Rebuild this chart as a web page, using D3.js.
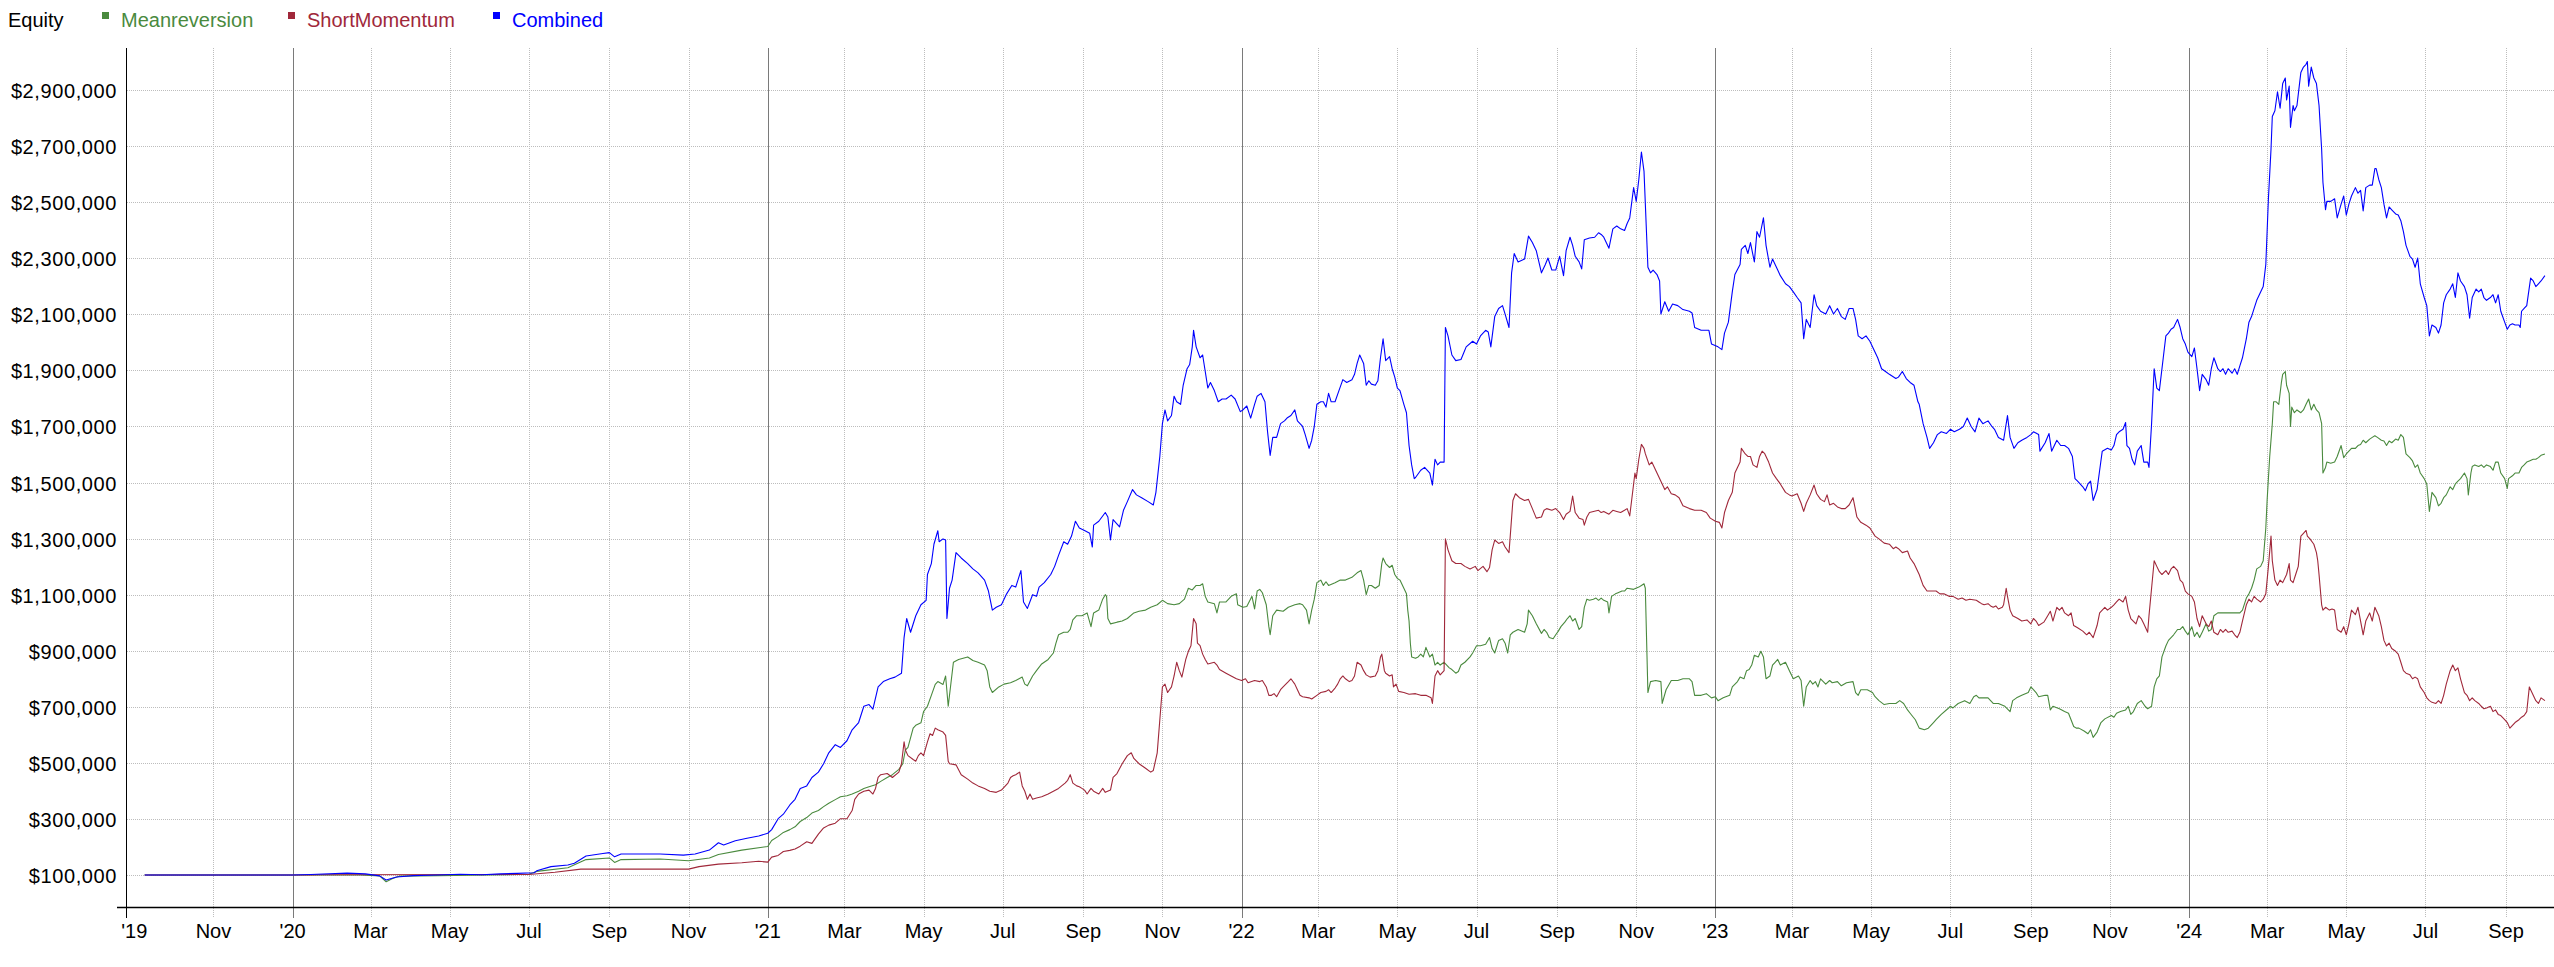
<!DOCTYPE html>
<html><head><meta charset="utf-8">
<script src="https://cdn.jsdelivr.net/npm/d3@7"></script>
<style>
body{margin:0;background:#fff;}
svg{display:block;}
text{font-family:Arial,"Liberation Sans",sans-serif;}
</style></head>
<body><svg id="chart" width="2554" height="967"></svg>
<script>
// ---- data ----
const chartTitle = "Equity";
const startDate = "2019-08-26";      // first day of the time axis
const axisDays = 1870;               // length of the time axis in days
const seriesNames = ["Meanreversion", "ShortMomentum", "Combined"];
const yTickValues = [100,300,500,700,900,1100,1300,1500,1700,1900,2100,2300,2500,2700,2900]; // thousands of USD
// each point: [days since startDate, equity in thousands of USD]
const meanreversion = [[14,100],[128,100],[180,100],[195,97],[200,76],[205,88],[210,96],[240,98],[280,100],[310,103],[316,113],[340,126],[354,155],[372,161],[376,145],[381,155],[411,157],[433,151],[449,161],[456,173],[474,189],[494,202],
[497,223],[502,238],[506,252],[511,262],[515,272],[519,291],[524,305],[528,321],[533,330],[537,344],[541,356],[546,369],[550,379],[555,383],[559,389],[564,399],[568,409],[572,415],[577,422],[581,434],[586,448],[590,458],[595,477],[598,497],[600,546],[602,555],[606,624],[608,634],[612,643],[614,683],[617,702],[620,741],[623,780],[625,790],[629,780],[631,810],[633,702],[637,859],[641,869],[648,878],[652,865],[656,859],[661,849],[663,829],[665,771],[667,751],[672,771],[676,781],[681,786],[685,794],[690,806],[692,781],[694,775],[698,810],[701,829],[705,853],[710,869],[714,892],[716,927],[718,957],[722,966],[725,966],[727,976],[729,1010],[732,1025],[736,1025],[740,1035],[743,986],[745,1035],[749,1045],[752,1084],[754,1100],[755,1094],[756,1015],[758,996],[763,1002],[767,1006],[771,1015],[776,1035],[780,1041],[785,1045],[789,1055],[794,1064],[798,1080],[802,1068],[807,1064],[811,1068],[815,1084],[818,1123],[821,1117],[824,1133],[827,1133],[829,1139],[831,1094],[833,1074],[838,1068],[840,1035],[842,1074],[847,1074],[851,1094],[855,1103],[856,1064],[860,1055],[863,1058],[867,1094],[869,1049],[871,1113],[873,1119],[875,1107],[878,1064],[880,986],[881,957],[883,1025],[886,1045],[891,1041],[895,1055],[900,1064],[904,1068],[906,1064],[909,1045],[911,996],[913,1045],[915,1084],[917,1143],[920,1152],[922,1133],[924,1146],[926,1133],[931,1143],[935,1152],[939,1152],[944,1162],[948,1178],[951,1186],[953,1152],[955,1100],[957,1133],[959,1133],[962,1123],[965,1133],[967,1211],[968,1231],[970,1211],[973,1197],[975,1205],[977,1172],[979,1158],[981,1152],[984,1123],[986,1103],[987,1045],[988,1006],[989,927],[990,878],[993,873],[995,878],[997,888],[999,878],[1001,912],[1004,878],[1006,888],[1008,849],[1010,859],[1012,849],[1015,859],[1017,849],[1019,839],[1021,833],[1024,820],[1026,826],[1028,849],[1031,859],[1035,878],[1037,892],[1040,918],[1043,918],[1047,923],[1050,947],[1052,908],[1054,892],[1057,937],[1060,943],[1062,927],[1064,892],[1066,957],[1068,966],[1072,976],[1077,966],[1079,996],[1080,1045],[1083,1025],[1086,996],[1090,962],[1092,976],[1094,966],[1096,947],[1099,943],[1101,957],[1103,970],[1105,986],[1108,1002],[1110,1015],[1112,1025],[1114,1006],[1116,1015],[1119,976],[1121,986],[1123,1055],[1125,1084],[1127,1080],[1130,1084],[1132,1088],[1134,1080],[1136,1088],[1138,1080],[1141,1074],[1142,1035],[1144,1094],[1147,1103],[1149,1107],[1152,1113],[1154,1113],[1156,1123],[1161,1119],[1165,1127],[1167,1133],[1169,1139],[1170,1123],[1172,751],[1174,790],[1178,794],
[1182,790],[1183,712],[1186,761],[1190,794],[1195,794],[1199,800],[1204,800],[1206,790],[1208,741],[1213,741],[1217,747],[1221,732],[1224,736],[1226,722],[1230,732],[1235,741],[1237,771],[1241,790],[1243,806],[1246,800],[1248,829],[1250,833],[1252,849],[1254,884],[1257,878],[1259,898],[1261,878],[1263,800],[1266,810],[1268,849],[1270,859],[1272,869],[1274,849],[1278,859],[1281,829],[1284,800],[1288,810],[1290,794],[1292,702],[1294,771],[1297,794],[1299,781],[1301,790],[1303,771],[1305,800],[1309,781],[1312,794],[1314,786],[1318,790],[1321,775],[1325,786],[1330,790],[1332,751],[1334,741],[1336,761],[1341,761],[1345,751],[1347,736],[1350,722],[1354,708],[1358,712],[1363,712],[1366,722],[1369,712],[1372,689],[1374,677],[1378,654],[1381,624],[1385,618],[1388,624],[1392,644],[1394,654],[1398,673],[1403,693],[1405,702],[1407,696],[1411,712],[1416,722],[1420,712],[1423,736],[1425,741],[1427,732],[1429,732],[1434,732],[1438,712],[1442,712],[1447,702],[1451,683],[1453,722],[1456,732],[1460,741],[1465,751],[1467,771],[1469,761],[1471,751],[1473,736],[1478,741],[1480,741],[1482,689],[1484,702],[1489,693],[1493,683],[1496,677],[1500,630],[1502,624],[1504,624],[1508,614],[1511,604],[1513,618],[1515,591],[1518,610],[1521,644],[1524,657],[1529,669],[1531,663],[1533,677],[1536,683],[1540,689],[1542,702],[1544,673],[1546,683],[1549,712],[1552,722],[1555,702],[1557,693],[1560,702],[1562,771],[1564,800],[1566,810],[1568,878],[1571,917],[1573,937],[1575,947],[1577,957],[1580,976],[1582,976],[1584,986],[1586,970],[1588,957],[1591,986],[1593,951],[1595,966],[1597,947],[1599,966],[1602,996],[1604,970],[1606,976],[1608,1025],[1611,1035],[1615,1035],[1619,1035],[1624,1035],[1628,1035],[1630,1045],[1633,1088],[1635,1103],[1637,1123],[1639,1152],[1641,1192],[1644,1201],[1646,1221],[1648,1338],[1649,1436],[1651,1593],[1653,1710],[1654,1788],[1656,1788],[1658,1779],[1660,1857],[1661,1886],[1663,1896],[1664,1847],[1666,1818],[1667,1700],[1668,1769],[1670,1749],[1672,1759],[1675,1749],[1677,1759],[1679,1779],[1681,1798],[1683,1759],[1685,1779],[1687,1759],[1689,1749],[1691,1710],[1692,1534],[1694,1554],[1695,1573],[1698,1569],[1701,1573],[1703,1593],[1706,1632],[1708,1589],[1710,1602],[1712,1612],[1714,1622],[1717,1622],[1719,1632],[1721,1636],[1723,1651],[1725,1642],[1728,1655],[1730,1661],[1732,1667],[1734,1661],[1737,1651],[1739,1648],[1741,1632],[1743,1648],[1745,1642],[1748,1655],[1750,1651],[1752,1671],[1754,1661],[1756,1602],[1759,1589],[1761,1577],[1763,1554],[1765,1563],[1767,1534],[1770,1514],[1772,1495],[1774,1397],[1776,1465],[1779,1446],[1781,1417],[1783,1426],[1785,1446],[1787,1456],[1790,1485],[1792,1475],[1794,1495],[1796,1505],[1798,1514],[1801,1534],[1803,1514],[1804,1456],[1806,1534],[1807,1557],[1809,1563],[1812,1557],[1814,1563],[1816,1554],[1818,1563],[1821,1557],[1823,1544],[1825,1573],[1827,1573],[1829,1534],[1832,1514],[1834,1479],[1835,1514],[1838,1524],[1840,1534],[1843,1534],[1845,1554],[1847,1563],[1849,1573],[1851,1577],[1854,1583],[1856,1583],[1858,1589],[1860,1597],[1863,1602]];

const shortMomentum = [[14,100],[142,100],[150,101],[310,102],[330,110],[350,121],[433,121],[441,130],[456,139],[474,144],[487,149],[494,146],
[497,164],[502,170],[506,184],[511,188],[515,193],[519,203],[524,219],[528,213],[533,246],[537,268],[541,278],[546,285],[550,301],[555,301],[559,330],[561,370],[564,389],[568,399],[572,403],[575,389],[577,409],[579,448],[581,458],[586,462],[590,448],[595,467],[597,497],[599,575],[600,546],[602,526],[606,512],[608,506],[610,526],[612,536],[614,526],[617,575],[619,604],[621,598],[623,624],[625,618],[629,610],[631,598],[633,506],[634,497],[639,493],[643,458],[648,442],[652,428],[656,418],[661,409],[665,399],[670,395],[674,403],[679,428],[681,448],[683,454],[685,458],[688,467],[690,418],[692,399],[694,370],[696,389],[698,370],[701,375],[705,379],[710,389],[714,399],[718,409],[723,428],[725,438],[727,458],[729,428],[732,418],[734,415],[736,409],[738,403],[740,389],[743,409],[745,399],[749,389],[752,409],[754,395],[758,403],[760,448],[763,462],[767,497],[771,526],[774,536],[776,516],[780,497],[785,481],[789,467],[791,473],[794,536],[796,653],[798,771],[800,781],[802,751],[805,771],[807,810],[809,859],[811,829],[813,806],[816,869],[818,898],[820,918],[822,1015],[824,996],[825,927],[827,918],[829,888],[831,869],[833,853],[838,859],[840,849],[842,833],[847,820],[851,810],[855,800],[859,794],[862,800],[864,786],[869,794],[873,790],[875,794],[878,771],[880,741],[882,741],[884,747],[886,736],[889,761],[891,771],[895,790],[897,800],[900,781],[902,761],[904,741],[906,736],[911,732],[913,728],[917,741],[920,751],[924,755],[926,761],[928,751],[931,767],[933,781],[935,800],[937,810],[939,800],[942,790],[944,794],[946,810],[948,859],[951,849],[953,829],[955,814],[958,806],[962,810],[964,829],[966,878],[967,888],[969,829],[970,820],[973,810],[975,814],[976,771],[978,781],[980,755],[984,751],[988,745],[993,747],[997,741],[1001,741],[1005,732],[1006,712],[1008,810],[1010,829],[1012,814],[1015,829],[1016,1299],[1018,1260],[1021,1221],[1024,1211],[1028,1211],[1031,1201],[1035,1192],[1039,1201],[1041,1186],[1045,1201],[1048,1182],[1050,1197],[1052,1260],[1054,1295],[1057,1283],[1060,1289],[1062,1270],[1065,1250],[1068,1436],[1070,1460],[1073,1446],[1077,1436],[1080,1440],[1083,1407],[1086,1373],[1090,1377],[1092,1401],[1094,1407],[1098,1401],[1101,1407],[1104,1393],[1107,1368],[1109,1387],[1112,1397],[1114,1452],[1116,1393],[1119,1373],[1122,1368],[1123,1348],[1125,1377],[1127,1393],[1130,1397],[1134,1401],[1136,1393],[1138,1397],[1142,1387],[1145,1401],[1148,1397],[1151,1393],[1154,1401],[1156,1407],[1158,1381],[1161,1495],[1162,1534],[1163,1514],[1165,1583],[1167,1636],[1169,1622],[1170,1603],[1173,1563],[1175,1573],[1177,1554],
[1179,1534],[1182,1505],[1185,1475],[1187,1485],[1190,1460],[1193,1456],[1196,1446],[1199,1417],[1204,1407],[1208,1401],[1213,1401],[1217,1393],[1220,1373],[1224,1362],[1227,1358],[1229,1338],[1231,1393],[1234,1436],[1237,1465],[1239,1534],[1243,1573],[1244,1622],[1247,1602],[1249,1593],[1251,1593],[1253,1563],[1256,1554],[1258,1593],[1260,1612],[1262,1603],[1265,1573],[1268,1534],[1271,1514],[1274,1495],[1278,1465],[1281,1456],[1283,1452],[1287,1460],[1290,1426],[1292,1397],[1294,1426],[1297,1456],[1300,1491],[1302,1460],[1305,1440],[1308,1432],[1310,1456],[1312,1420],[1315,1426],[1318,1413],[1321,1407],[1324,1407],[1327,1420],[1330,1446],[1333,1377],[1336,1358],[1340,1348],[1343,1338],[1347,1309],[1350,1299],[1354,1284],[1358,1280],[1361,1264],[1363,1270],[1365,1264],[1368,1250],[1372,1256],[1374,1231],[1377,1211],[1380,1182],[1381,1172],[1384,1133],[1387,1113],[1390,1113],[1394,1113],[1397,1103],[1400,1103],[1404,1094],[1407,1094],[1411,1084],[1414,1088],[1417,1080],[1420,1084],[1425,1080],[1427,1074],[1429,1068],[1431,1064],[1434,1068],[1436,1060],[1438,1055],[1440,1060],[1442,1049],[1445,1055],[1446,1064],[1448,1123],[1449,1094],[1451,1045],[1453,1025],[1457,1015],[1460,1006],[1464,1010],[1467,996],[1469,1015],[1471,1006],[1473,990],[1477,1002],[1480,1025],[1482,1041],[1484,1006],[1487,1055],[1489,1045],[1491,1055],[1493,1035],[1496,1025],[1498,1035],[1500,990],[1503,982],[1507,970],[1510,957],[1512,966],[1515,947],[1518,990],[1520,1035],[1522,1045],[1524,1055],[1526,1045],[1529,1055],[1531,1064],[1533,1074],[1535,1084],[1538,1074],[1540,1094],[1542,1045],[1544,1015],[1548,996],[1550,1025],[1552,1015],[1554,996],[1557,966],[1558,1025],[1560,1123],[1562,1221],[1564,1201],[1566,1182],[1568,1172],[1571,1186],[1573,1172],[1575,1192],[1577,1201],[1580,1186],[1582,1152],[1584,1143],[1586,1113],[1588,1103],[1591,1094],[1593,1074],[1595,1015],[1597,986],[1599,1025],[1602,996],[1604,986],[1606,1006],[1608,966],[1611,957],[1613,976],[1615,966],[1617,976],[1619,966],[1622,970],[1624,957],[1626,947],[1628,966],[1630,1006],[1633,1064],[1635,1084],[1637,1074],[1639,1094],[1641,1084],[1644,1074],[1646,1084],[1648,1103],[1650,1201],[1652,1309],[1653,1221],[1655,1152],[1657,1133],[1659,1152],[1661,1143],[1664,1172],[1666,1211],[1667,1152],[1669,1143],[1671,1172],[1673,1201],[1675,1309],[1677,1319],[1679,1329],[1680,1309],[1682,1299],[1685,1280],[1687,1250],[1688,1221],[1689,1172],[1691,1064],[1692,1045],[1694,1055],[1697,1045],[1699,1049],[1701,1045],[1703,976],[1706,966],[1708,986],[1710,957],[1712,996],[1714,1045],[1717,1029],[1719,1055],[1721,1006],[1723,957],[1725,1006],[1728,1035],[1730,1006],[1732,1055],[1735,1025],[1737,986],[1739,937],[1741,917],[1743,927],[1745,908],[1748,898],[1750,888],[1752,859],[1754,829],[1756,820],[1759,814],[1761,800],[1763,806],[1765,800],[1767,771],[1770,751],[1772,732],[1774,722],[1776,716],[1779,712],[1781,722],[1783,712],[1785,741],[1787,781],[1790,829],[1792,849],[1794,829],[1796,839],[1798,800],[1801,751],[1803,741],[1805,722],[1807,732],[1809,722],[1812,712],[1814,702],[1816,693],[1818,696],[1821,702],[1823,683],[1825,689],[1827,673],[1829,669],[1832,654],[1834,644],[1836,624],[1838,634],[1840,644],[1843,654],[1845,663],[1847,669],[1849,683],[1851,771],[1854,741],[1856,722],[1858,712],[1860,732],[1863,722]];

const combined = [[14,100],[128,100],[142,102],[170,107],[184,104],[195,97],[200,82],[208,93],[221,98],[239,100],[257,103],[274,101],[288,104],[301,106],[314,108],[316,115],[327,130],[340,136],[345,142],[354,168],[367,177],[372,180],[376,165],[381,175],[389,175],[411,175],[429,171],[438,175],[449,189],[456,215],[460,207],[469,222],[478,231],[487,239],[494,249],
[497,262],[502,301],[506,317],[511,350],[515,370],[519,409],[524,418],[528,448],[533,467],[537,497],[541,536],[546,565],[550,555],[555,579],[559,618],[564,644],[568,702],[572,708],[575,692],[579,771],[583,790],[588,800],[592,806],[597,820],[599,947],[601,1015],[604,966],[608,1025],[612,1064],[616,1080],[617,1172],[620,1211],[622,1280],[625,1328],[626,1289],[629,1299],[631,1295],[632,1015],[634,1123],[636,1152],[639,1250],[643,1231],[648,1211],[652,1192],[656,1178],[661,1152],[664,1113],[667,1045],[670,1055],[674,1064],[678,1103],[682,1133],[685,1127],[689,1186],[691,1074],[694,1051],[698,1100],[701,1094],[703,1127],[707,1143],[712,1172],[715,1201],[718,1240],[722,1289],[725,1280],[728,1309],[731,1362],[734,1338],[738,1329],[742,1319],[744,1270],[745,1348],[749,1362],[754,1393],[756,1377],[758,1295],[760,1368],[765,1342],[768,1401],[771,1432],[775,1475],[778,1456],[782,1446],[787,1432],[791,1420],[793,1465],[796,1593],[798,1710],[800,1759],[802,1720],[805,1739],[807,1808],[809,1788],[812,1779],[814,1847],[817,1906],[819,1921],[821,1984],[822,2043],[824,1984],[827,1945],[829,1955],[831,1896],[833,1837],[835,1857],[838,1828],[841,1788],[844,1798],[847,1798],[851,1812],[854,1798],[858,1753],[860,1759],[863,1773],[866,1730],[869,1779],[871,1808],[874,1818],[877,1788],[879,1681],[881,1597],[883,1661],[886,1661],[889,1710],[892,1720],[894,1730],[897,1739],[900,1759],[902,1720],[904,1710],[906,1700],[908,1671],[911,1622],[913,1651],[915,1700],[917,1779],[920,1788],[922,1788],[924,1769],[926,1818],[928,1788],[931,1788],[934,1828],[937,1867],[940,1857],[944,1867],[946,1886],[948,1925],[950,1955],[953,1925],[955,1847],[957,1863],[959,1851],[962,1847],[964,1863],[966,1945],[968,2013],[970,1935],[973,1949],[975,1906],[977,1876],[979,1837],[981,1828],[984,1779],[986,1749],[988,1632],[990,1563],[992,1514],[993,1518],[997,1544],[1000,1554],[1004,1534],[1006,1491],[1008,1583],[1010,1563],[1012,1573],[1015,1573],[1016,2053],[1018,2023],[1021,1955],[1024,1935],[1028,1939],[1030,1961],[1032,1984],[1037,2004],[1040,1994],[1043,2023],[1047,2043],[1049,2037],[1051,1984],[1054,2092],[1057,2121],[1060,2131],[1062,2101],[1065,2053],[1067,2248],[1069,2317],[1072,2287],[1077,2297],[1080,2379],[1083,2356],[1086,2327],[1090,2248],[1093,2278],[1095,2301],[1098,2258],[1101,2258],[1104,2307],[1107,2238],[1109,2327],[1112,2375],[1114,2346],[1116,2307],[1119,2287],[1121,2262],[1123,2366],[1127,2372],[1131,2375],[1134,2391],[1136,2385],[1138,2375],[1142,2336],[1145,2405],[1148,2415],[1151,2405],[1154,2399],[1156,2424],[1158,2444],[1161,2552],[1163,2503],[1165,2581],[1167,2679],[1169,2610],[1172,2268],[1174,2248],[1176,2258],[1179,2242],
[1181,2219],[1182,2101],[1185,2145],[1188,2111],[1191,2137],[1195,2131],[1199,2117],[1204,2111],[1206,2105],[1208,2053],[1213,2043],[1219,2043],[1221,1994],[1226,1984],[1229,1974],[1231,2033],[1234,2072],[1237,2180],[1239,2242],[1243,2278],[1244,2332],[1247,2346],[1249,2317],[1251,2356],[1254,2287],[1256,2395],[1258,2375],[1261,2444],[1263,2346],[1266,2268],[1268,2297],[1270,2278],[1272,2258],[1274,2238],[1278,2209],[1281,2199],[1284,2180],[1287,2160],[1290,2141],[1292,2013],[1294,2082],[1297,2053],[1300,2170],[1302,2131],[1305,2111],[1309,2101],[1312,2131],[1315,2101],[1318,2121],[1321,2092],[1324,2082],[1327,2121],[1330,2121],[1332,2082],[1334,2023],[1337,2013],[1340,2023],[1343,2004],[1345,1984],[1349,1945],[1352,1906],[1355,1896],[1358,1886],[1363,1871],[1365,1876],[1368,1896],[1371,1871],[1374,1857],[1377,1847],[1380,1788],[1381,1779],[1384,1710],[1387,1661],[1389,1622],[1392,1642],[1395,1671],[1398,1681],[1402,1675],[1405,1690],[1408,1681],[1412,1690],[1415,1700],[1418,1730],[1421,1700],[1424,1681],[1427,1730],[1430,1710],[1434,1720],[1437,1700],[1439,1690],[1442,1661],[1446,1651],[1449,1739],[1451,1661],[1454,1622],[1457,1642],[1460,1651],[1464,1661],[1467,1671],[1469,1681],[1473,1671],[1474,1612],[1478,1642],[1481,1675],[1483,1612],[1487,1651],[1490,1632],[1493,1632],[1496,1622],[1499,1593],[1501,1514],[1503,1505],[1507,1485],[1509,1471],[1511,1495],[1513,1505],[1515,1436],[1518,1475],[1520,1544],[1522,1612],[1526,1622],[1529,1616],[1531,1632],[1533,1671],[1535,1681],[1538,1690],[1540,1714],[1541,1632],[1543,1622],[1545,1583],[1547,1563],[1549,1612],[1552,1632],[1554,1573],[1557,1573],[1558,1554],[1560,1710],[1562,1906],[1564,1837],[1566,1828],[1569,1945],[1571,2023],[1573,2033],[1575,2047],[1577,2053],[1580,2082],[1582,2053],[1584,2013],[1586,1994],[1588,1965],[1591,1949],[1593,1980],[1595,1906],[1597,1828],[1599,1886],[1602,1867],[1604,1847],[1606,1906],[1608,1945],[1611,1906],[1613,1896],[1615,1906],[1617,1886],[1619,1906],[1622,1890],[1624,1906],[1626,1886],[1628,1916],[1630,1945],[1633,2013],[1635,2072],[1637,2092],[1639,2121],[1641,2150],[1644,2180],[1646,2199],[1648,2278],[1650,2512],[1652,2689],[1653,2806],[1655,2826],[1657,2894],[1659,2835],[1661,2923],[1663,2943],[1664,2865],[1666,2914],[1667,2767],[1669,2845],[1670,2826],[1672,2845],[1675,2963],[1677,2982],[1679,2992],[1680,3002],[1681,2914],[1683,2982],[1685,2943],[1687,2923],[1689,2845],[1691,2689],[1692,2571],[1694,2473],[1695,2503],[1698,2503],[1701,2512],[1703,2444],[1706,2493],[1708,2522],[1710,2454],[1712,2493],[1714,2522],[1717,2552],[1719,2532],[1721,2542],[1723,2469],[1725,2552],[1728,2561],[1730,2561],[1732,2620],[1733,2620],[1735,2581],[1737,2552],[1739,2493],[1741,2444],[1743,2483],[1745,2473],[1748,2458],[1750,2454],[1752,2434],[1754,2395],[1756,2346],[1759,2307],[1761,2297],[1763,2268],[1765,2301],[1767,2209],[1770,2160],[1772,2131],[1774,2023],[1776,2062],[1779,2053],[1781,2033],[1783,2062],[1785,2141],[1787,2170],[1790,2190],[1792,2209],[1794,2160],[1796,2248],[1798,2219],[1801,2199],[1803,2170],[1805,2086],[1807,2160],[1810,2190],[1812,2180],[1814,2190],[1816,2160],[1818,2150],[1821,2160],[1823,2170],[1825,2141],[1827,2170],[1829,2111],[1832,2072],[1834,2047],[1836,2062],[1838,2066],[1840,2062],[1843,2062],[1844,2053],[1845,2111],[1847,2121],[1849,2131],[1852,2229],[1854,2219],[1856,2199],[1858,2209],[1860,2219],[1863,2238]];

// ---- styles / layout ----
const colors = {Meanreversion:"#4a8a3e", ShortMomentum:"#a0283a", Combined:"#0000ff"};
const W = 2554, H = 967;
const plot = {left:126.5, right:2554, top:48, bottom:907};
const font = 20;

const svg = d3.select("#chart");
const t0 = d3.utcParse("%Y-%m-%d")(startDate);
const toDate = d => d3.utcDay.offset(t0, d);

const x = d3.scaleUtc().domain([t0, toDate(axisDays)]).range([plot.left, plot.right]);
const y = d3.scaleLinear().domain([-14, 3050]).range([plot.bottom, plot.top]);

// horizontal grid + y labels
const gY = svg.append("g");
yTickValues.forEach(v => {
  const yy = Math.round(y(v)) + 0.5;
  gY.append("line").attr("x1", plot.left + 0.5).attr("x2", W).attr("y1", yy).attr("y2", yy)
    .attr("stroke", "#bdbdbd").attr("stroke-width", 1).attr("stroke-dasharray", "1,1");
  gY.append("text").attr("x", 117).attr("y", yy + 7).attr("text-anchor", "end")
    .attr("font-size", font).attr("letter-spacing", "0.6px").attr("fill", "#000")
    .text("$" + d3.format(",")(v * 1000));
});

// vertical grid + x labels
const ticks = d3.utcMonth.every(2).range(d3.utcMonth.ceil(t0), toDate(axisDays));
const gX = svg.append("g");
ticks.forEach((t, i) => {
  const xx = Math.round(x(t)) + 0.5;
  const isYear = t.getUTCMonth() === 0;
  if (isYear) {
    gX.append("line").attr("x1", xx).attr("x2", xx).attr("y1", plot.top).attr("y2", 918)
      .attr("stroke", "#7a7a7a").attr("stroke-width", 1);
  } else if (i > 0) {
    gX.append("line").attr("x1", xx).attr("x2", xx).attr("y1", plot.top).attr("y2", 918)
      .attr("stroke", "#bdbdbd").attr("stroke-width", 1).attr("stroke-dasharray", "1,1");
  }
  const label = (isYear || i === 0) ? "'" + d3.utcFormat("%y")(t) : d3.utcFormat("%b")(t);
  gX.append("text").attr("x", x(t)).attr("y", 938).attr("text-anchor", "middle")
    .attr("font-size", font).attr("fill", "#000").text(label);
});

// axes lines
svg.append("line").attr("x1", 126.5).attr("x2", 126.5).attr("y1", plot.top).attr("y2", 918)
  .attr("stroke", "#000").attr("stroke-width", 1);
svg.append("line").attr("x1", 117).attr("x2", W).attr("y1", 907.5).attr("y2", 907.5)
  .attr("stroke", "#000").attr("stroke-width", 1.5);

// series
const line = d3.line().x(d => x(toDate(d[0]))).y(d => y(d[1]));
const seriesData = {Meanreversion: meanreversion, ShortMomentum: shortMomentum, Combined: combined};
seriesNames.forEach(name => {
  svg.append("path").datum(seriesData[name]).attr("d", line)
    .attr("fill", "none").attr("stroke", colors[name]).attr("stroke-width", 1.1)
    .attr("stroke-linejoin", "round");
});

// legend
svg.append("text").attr("x", 8).attr("y", 27).attr("font-size", font).attr("fill", "#000").text(chartTitle);
const legendX = [102, 288, 493];
seriesNames.forEach((name, i) => {
  svg.append("rect").attr("x", legendX[i]).attr("y", 12).attr("width", 7).attr("height", 7).attr("fill", colors[name]);
  svg.append("text").attr("x", legendX[i] + 19).attr("y", 27).attr("font-size", font)
    .attr("fill", colors[name]).text(name);
});
</script>
</body></html>
